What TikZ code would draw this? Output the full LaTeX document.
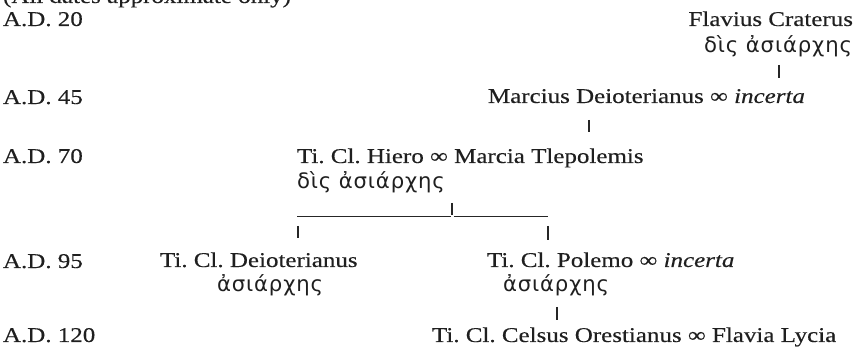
\documentclass[tikz,border=0pt]{standalone}
\usepackage{fontspec}
\setmainfont[FakeStretch=1.19,FakeBold=0.3]{Liberation Serif}
\newfontfamily\greekfont[LetterSpace=4]{DejaVu Sans}
\frenchspacing
\begin{document}
\begin{tikzpicture}[x=0.5pt,y=-0.5pt,
  every node/.style={inner sep=0pt,outer sep=0pt,text=black!88},
  txt/.style={font=\fontsize{10.5}{12}\selectfont},
  grk/.style={font=\fontsize{10.6}{12}\greekfont},
  link/.style={draw=black!85,line width=0.75pt}]
\useasboundingbox (0,0) rectangle (855,351);
\clip (0,0) rectangle (855,351);

% dates column
\node[txt,anchor=base west] (note) at (3,3) {(All dates approximate only)};
\node[txt,anchor=base west] (d20) at (3,26) {A.D. 20};
\node[txt,anchor=base west] (d45) at (3,104) {A.D. 45};
\node[txt,anchor=base west] (d70) at (3,163) {A.D. 70};
\node[txt,anchor=base west] (d95) at (3,268) {A.D. 95};
\node[txt,anchor=base west] (d120) at (3,342) {A.D. 120};

% generation 1
\node[txt,anchor=base east] (crat) at (853,26) {Flavius Craterus};
\node[grk,anchor=base east] (cratg) at (852,53) {δὶς ἀσιάρχης};
% generation 2
\node[txt,anchor=base west] (marc) at (488,103) {Marcius Deioterianus ∞ \textit{incerta}};
% generation 3
\node[txt,anchor=base west] (hier) at (297,163) {Ti. Cl. Hiero ∞ Marcia Tlepolemis};
\node[grk,anchor=base west] (hierg) at (297,189) {δὶς ἀσιάρχης};
% generation 4
\node[txt,anchor=base west] (deio) at (160,267) {Ti. Cl. Deioterianus};
\node[grk,anchor=base west] (deiog) at (217,292) {ἀσιάρχης};
\node[txt,anchor=base west] (pole) at (487,267) {Ti. Cl. Polemo ∞ \textit{incerta}};
\node[grk,anchor=base west] (poleg) at (503,292) {ἀσιάρχης};
% generation 5
\node[txt,anchor=base west] (cels) at (432,342) {Ti. Cl. Celsus Orestianus ∞ Flavia Lycia};

% descent ticks
\coordinate (t1a) at (779,65);  \coordinate (t1b) at (779,78);
\coordinate (t2a) at (589,120); \coordinate (t2b) at (589,132);
\coordinate (t3a) at (557,307); \coordinate (t3b) at (557,320);
\draw[link] (t1a) -- (t1b);
\draw[link] (t2a) -- (t2b);
\draw[link] (t3a) -- (t3b);

% sibling bar of Hiero's children
\coordinate (bm) at (452,203);
\coordinate (bmb) at (452,215);
\coordinate (bl) at (297,216.5);
\coordinate (bml) at (450.5,216.5);
\coordinate (bmr) at (453.5,216.5);
\coordinate (br) at (548,216.5);
\draw[link] (bm) -- (bmb);
\draw[link] (bl) -- (bml);
\draw[link] (bmr) -- (br);
\coordinate (cl) at (298,226); \coordinate (clb) at (298,238);
\coordinate (cr) at (548,226); \coordinate (crb) at (548,240);
\draw[link] (cl) -- (clb);
\draw[link] (cr) -- (crb);
\end{tikzpicture}
\end{document}
